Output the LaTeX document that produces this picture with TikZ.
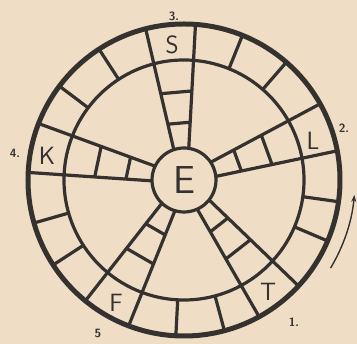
\documentclass[tikz,border=0pt]{standalone}
\usepackage{tikz}
\usetikzlibrary{arrows.meta}
\definecolor{paper}{RGB}{239,221,198}
\definecolor{ink}{RGB}{52,49,47}
\begin{document}
\begin{tikzpicture}[x=1pt,y=1pt,
 rim/.style={draw=ink,line width=5pt},
 bar/.style={draw=ink,line width=3.2pt},
 letter/.style={font=\sffamily\fontsize{25}{25}\selectfont,text=ink,inner sep=0pt},
 num/.style={font=\sffamily\bfseries\fontsize{12}{12}\selectfont,text=ink,inner sep=0pt},
 >={Stealth[length=7pt,width=5pt]}]
\fill[paper] (-184,-164) rectangle (173,180);
\useasboundingbox (-184,-164) rectangle (173,180);
\coordinate (c) at (0,0);
\draw[rim] (c) circle (156);
\draw[bar] (c) circle (120);
\node[circle,draw=ink,line width=3.2pt,minimum size=64pt,inner sep=0pt,
 font=\sffamily\fontsize{39}{39}\selectfont,text=ink] (E) at (c) {E};
\foreach \a in {95,20,308,240,168}{
 \begin{scope}[rotate=\a]
 \draw[bar] (31.1,7.5) -- (154,25) (31.1,-7.5) -- (154,-25)
  (57,-11.2) -- (57,11.2) (88,-15.6) -- (88,15.6);
 \end{scope}
}
\foreach \d in {49,68,123,143,196,213,267,285,337,352}
 \draw[bar] (\d:120) -- (\d:156);
\node[letter] (S) at (95:136) {S};
\node[letter] (L) at (17:135) {L};
\node[letter] (K) at (170:139) {K};
\node[letter] (F) at (241:140) {F};
\node[letter] (T) at (307:140) {T};
\node[num] (n3) at (-10,164) {3.};
\node[num] (n2) at (160,52) {2.};
\node[num] (n4) at (-169,27) {4.};
\node[num] (n5) at (-86,-153) {5};
\node[num] (n1) at (110,-142) {1.};
\coordinate (a0) at (-31:171);
\draw[->,ink,line width=1.4pt] (a0) arc[start angle=-31,end angle=-5,radius=171];
\end{tikzpicture}
\end{document}
